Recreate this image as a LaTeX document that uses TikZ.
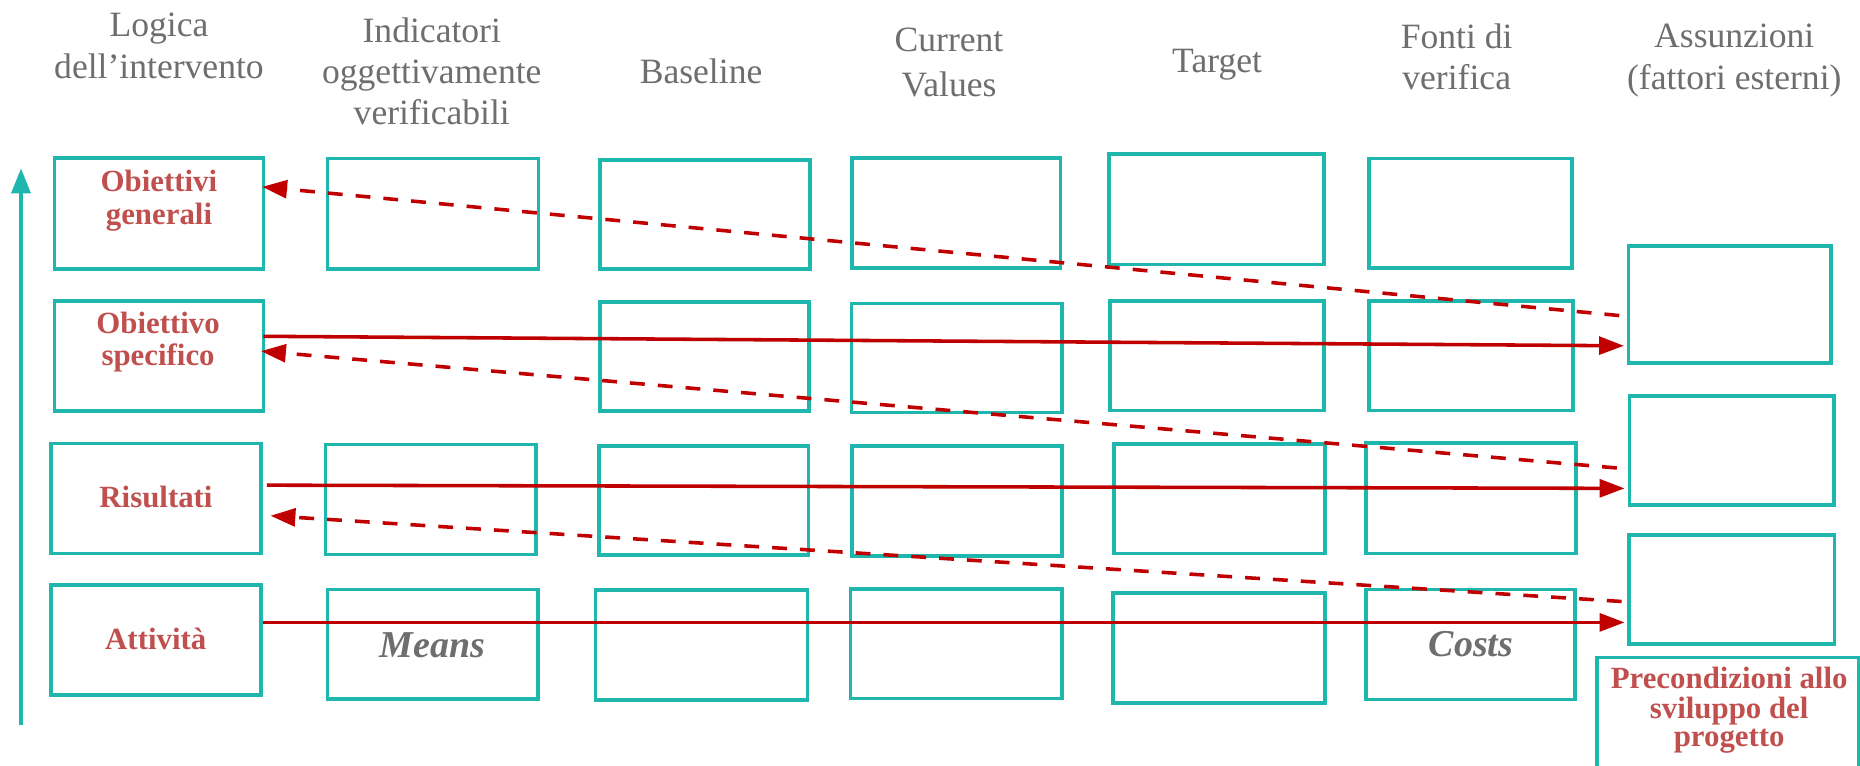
\documentclass[tikz,border=0pt]{standalone}
\usepackage{fontspec}
\setmainfont{Liberation Serif}
\usetikzlibrary{arrows.meta,calc}
\definecolor{tealbox}{RGB}{31,182,174}
\definecolor{arrred}{RGB}{192,0,0}
\definecolor{lblred}{RGB}{192,80,77}
\definecolor{hdrgray}{RGB}{110,110,110}
\tikzset{
 cell/.style={draw=tealbox, line width=3.1pt, rectangle, inner sep=0pt, outer sep=0pt},
 hdr/.style={anchor=base, inner sep=0pt, text=hdrgray, font=\fontsize{30}{35}\selectfont},
 lbl/.style={anchor=base, inner sep=0pt, text=lblred, font=\fontsize{26}{28}\selectfont\bfseries},
 cost/.style={anchor=base, inner sep=0pt, text=hdrgray, font=\fontsize{32}{36}\selectfont\bfseries\itshape},
 solidarr/.style={draw=arrred, line width=3pt, -{Triangle[length=21pt,width=15pt]}},
 dasharr/.style={solidarr, dash pattern=on 12.5pt off 11pt},
 uparr/.style={draw=tealbox, line width=3pt, -{Triangle[length=21pt,width=16pt]}},
}
\begin{document}
\begin{tikzpicture}[x=1pt,y=-1pt]
\useasboundingbox (0,0) rectangle (1568,645);
\fill[white] (0,0) rectangle (1568,645);
\clip (0,0) rectangle (1568,645);

% headers
\node[hdr] (h1a) at (134,31) {Logica};
\node[hdr] (h1b) at (134,66) {dell’intervento};
\node[hdr] (h2a) at (364,35.5) {Indicatori};
\node[hdr] (h2b) at (364,70) {oggettivamente};
\node[hdr] (h2c) at (364,105) {verificabili};
\node[hdr] (h3a) at (591,70) {Baseline};
\node[hdr] (h4a) at (800,43.5) {Current};
\node[hdr] (h4b) at (800,81) {Values};
\node[hdr] (h5a) at (1026,61) {Target};
\node[hdr] (h6a) at (1228,40.5) {Fonti di};
\node[hdr] (h6b) at (1228,75.5) {verifica};
\node[hdr] (h7a) at (1462,40) {Assunzioni};
\node[hdr] (h7b) at (1462,75.5) {(fattori esterni)};

% row 1
\node[cell, minimum width=176pt, minimum height=94pt] (L1) at (134,180) {};
\node[cell, minimum width=178pt, minimum height=93.5pt] (I1) at (365,180.25) {};
\node[cell, minimum width=177pt, minimum height=92pt] (B1) at (594.5,181) {};
\node[cell, minimum width=176pt, minimum height=93pt] (C1) at (806,179.5) {};
\node[cell, minimum width=181pt, minimum height=93pt] (T1) at (1025.5,176.5) {};
\node[cell, minimum width=171pt, minimum height=92.5pt] (F1) at (1239.5,179.75) {};
% row 2
\node[cell, minimum width=176pt, minimum height=92.5pt] (L2) at (134,300.25) {};
\node[cell, minimum width=176pt, minimum height=92.2pt] (B2) at (594,300.5) {};
\node[cell, minimum width=177.3pt, minimum height=92pt] (C2) at (806.35,301.75) {};
\node[cell, minimum width=180pt, minimum height=92.5pt] (T2) at (1026,299.75) {};
\node[cell, minimum width=172pt, minimum height=92.2pt] (F2) at (1240,299.9) {};
% row 3
\node[cell, minimum width=177.3pt, minimum height=92.7pt] (L3) at (131.65,420.15) {};
\node[cell, minimum width=177.7pt, minimum height=92.8pt] (I3) at (363.15,421) {};
\node[cell, minimum width=176.5pt, minimum height=92.2pt] (B3) at (593.25,421.9) {};
\node[cell, minimum width=176.8pt, minimum height=93pt] (C3) at (806.8,422.3) {};
\node[cell, minimum width=178.1pt, minimum height=92.1pt] (T3) at (1027.95,420.45) {};
\node[cell, minimum width=177.3pt, minimum height=93.3pt] (F3) at (1240.15,419.85) {};
% row 4
\node[cell, minimum width=177.3pt, minimum height=92.7pt] (L4) at (131.65,539.65) {};
\node[cell, minimum width=177.3pt, minimum height=92.5pt] (I4) at (364.65,543.15) {};
\node[cell, minimum width=178.8pt, minimum height=92.7pt] (B4) at (591.4,543.85) {};
\node[cell, minimum width=178pt, minimum height=92.2pt] (C4) at (806,542.7) {};
\node[cell, minimum width=178.8pt, minimum height=93pt] (T4) at (1027.6,546.2) {};
\node[cell, minimum width=176.5pt, minimum height=92.8pt] (F4) at (1239.75,543.3) {};
% assumptions
\node[cell, minimum width=171pt, minimum height=98.6pt] (A1) at (1458.3,256.5) {};
\node[cell, minimum width=172.4pt, minimum height=91.9pt] (A2) at (1460,379.85) {};
\node[cell, minimum width=173.3pt, minimum height=91.9pt] (A3) at (1459.85,497.05) {};
\node[cell, minimum width=220.5pt, minimum height=93.8pt] (P) at (1456.75,601.1) {};

% labels
\node[lbl] (t1a) at (134,161.6) {Obiettivi};
\node[lbl] (t1b) at (134,188.9) {generali};
\node[lbl] (t2a) at (133.3,281) {Obiettivo};
\node[lbl] (t2b) at (133.3,307.8) {specifico};
\node[lbl] (t3a) at (131.5,428) {Risultati};
\node[lbl] (t4a) at (131.3,547.5) {Attività};
\node[cost] (tm) at (364.7,554.5) {Means};
\node[cost] (tc) at (1240,553.7) {Costs};
\node[lbl] (tpa) at (1457.7,580.5) {Precondizioni allo};
\node[lbl] (tpb) at (1457.7,605.3) {sviluppo del};
\node[lbl] (tpc) at (1457.7,629.5) {progetto};

% arrows
\draw[dasharr] ($(A1.west)+(-7.8,9.5)$) -- ($(L1.east)+(-1,-22.5)$);
\draw[solidarr] ($(L2.east)+(0,-16.75)$) -- ($(A1.west)+(-3.8,35)$);
\draw[dasharr] ($(A2.west)+(-10.8,14.65)$) -- ($(L2.east)+(-2,-4.25)$);
\draw[solidarr] ($(L3.east)+(4.7,-11.15)$) -- ($(A2.west)+(-4.3,31.85)$);
\draw[dasharr] ($(A3.west)+(-6.2,10)$) -- ($(L3.east)+(7.7,14.65)$);
\draw[solidarr] ($(L4.east)+(1.7,-14.95)$) -- ($(A3.west)+(-3.7,27.65)$);

\coordinate (up0) at (17.7,611.3);
\coordinate (up1) at (17.7,142);
\draw[uparr] (up0) -- (up1);
\end{tikzpicture}
\end{document}
